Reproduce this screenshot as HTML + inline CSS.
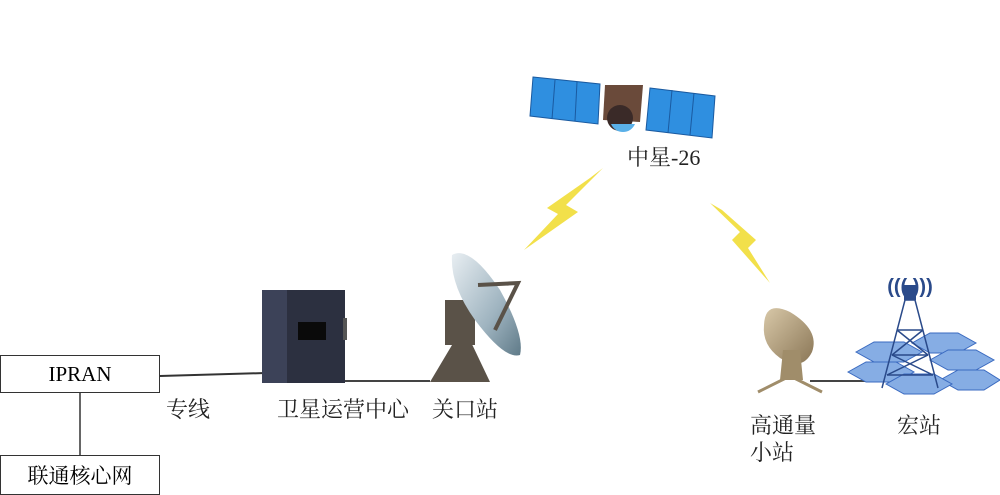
<!DOCTYPE html>
<html><head><meta charset="utf-8"><style>
body{margin:0;width:1000px;height:493px;background:#fff;position:relative;overflow:hidden;font-family:"Liberation Serif","Noto Serif CJK SC",serif;}
.t{position:absolute;font-size:22px;color:#222;white-space:nowrap;line-height:1}
.b{position:absolute;border:1.5px solid #333;background:#fff;box-sizing:border-box;display:flex;align-items:center;justify-content:center;font-size:21px}
</style></head><body>
<svg width="1000" height="493" style="position:absolute;left:0;top:0">
<defs>
<linearGradient id="dish" x1="0" y1="0" x2="1" y2="1"><stop offset="0" stop-color="#e8eef2"/><stop offset="0.6" stop-color="#9fb4c0"/><stop offset="1" stop-color="#5f7a88"/></linearGradient>
<linearGradient id="sd" x1="0" y1="0" x2="1" y2="1"><stop offset="0" stop-color="#d8c8a8"/><stop offset="1" stop-color="#8a7656"/></linearGradient>
</defs>
<line x1="80" y1="393" x2="80" y2="456" stroke="#333" stroke-width="1.5"/>
<line x1="160" y1="376" x2="265" y2="373" stroke="#333" stroke-width="2"/>
<line x1="290" y1="381" x2="430" y2="381" stroke="#444" stroke-width="2"/>
<line x1="810" y1="381" x2="895" y2="381" stroke="#444" stroke-width="2"/>
<!-- lightning -->
<polygon points="603,168 566,205 578,212 524,250 558,214 547,208 590,178" fill="#f2e04a"/>
<polygon points="710,203 740,232 732,240 770,283 748,248 756,240 722,210" fill="#f2e04a"/>
<!-- satellite -->
<g>
<polygon points="533,77 600,84 598,124 530,116" fill="#2f8fe0" stroke="#1a5aa0"/>
<line x1="555" y1="80" x2="552" y2="119" stroke="#1a5aa0"/><line x1="577" y1="82" x2="575" y2="121" stroke="#1a5aa0"/>
<polygon points="650,88 715,96 712,138 646,130" fill="#2f8fe0" stroke="#1a5aa0"/>
<line x1="672" y1="90" x2="668" y2="133" stroke="#1a5aa0"/><line x1="694" y1="93" x2="690" y2="135" stroke="#1a5aa0"/>
<polygon points="605,85 643,85 640,122 603,120" fill="#6a4a3a"/>
<ellipse cx="620" cy="118" rx="13" ry="13" fill="#3a2a28"/>
<path d="M611,124 a13,13 0 0 0 24,0" fill="#5ab0e8"/>
</g>
<!-- server -->
<rect x="262" y="290" width="83" height="93" fill="#2c3040"/>
<rect x="262" y="290" width="25" height="93" fill="#3c4258"/>
<rect x="298" y="322" width="28" height="18" fill="#0a0a0a"/>
<rect x="343" y="318" width="4" height="22" fill="#555"/>
<!-- gateway antenna -->
<polygon points="430,382 455,340 470,340 490,382" fill="#5a5248"/>
<rect x="445" y="300" width="30" height="45" fill="#5a5248"/>
<path d="M452,255 Q470,245 500,290 Q525,335 520,355 Q505,360 475,320 Q450,285 452,255Z" fill="url(#dish)"/>
<polyline points="478,285 518,283 495,330" fill="none" stroke="#5a5248" stroke-width="4"/>
<!-- small station -->
<path d="M764,325 Q765,300 790,312 Q820,330 812,352 Q802,372 780,358 Q762,345 764,325Z" fill="url(#sd)"/>
<polygon points="783,350 800,350 803,380 780,380" fill="#a08d6a"/>
<polyline points="758,392 790,376 822,392" fill="none" stroke="#a08d6a" stroke-width="3"/>
<!-- hexes -->
<g fill="#86ade4" stroke="#3a6ac0">
<polygon points="856,352 874,342 904,342 922,352 904,362 874,362"/>
<polygon points="912,343 930,333 958,333 976,343 958,353 930,353"/>
<polygon points="930,360 948,350 976,350 994,360 976,370 948,370"/>
<polygon points="848,372 866,362 896,362 914,372 896,382 866,382"/>
<polygon points="940,380 958,370 984,370 1000,380 984,390 958,390"/>
<polygon points="886,384 904,374 934,374 952,384 934,394 904,394"/>
</g>
<g stroke="#2a4a8a" stroke-width="1.5" fill="none">
<polyline points="882,388 905,300 915,300 938,388"/>
<line x1="897" y1="330" x2="923" y2="330"/><line x1="892" y1="355" x2="928" y2="355"/>
<line x1="887" y1="375" x2="933" y2="375"/>
<line x1="897" y1="330" x2="928" y2="355"/><line x1="923" y1="330" x2="892" y2="355"/>
<line x1="892" y1="355" x2="933" y2="375"/><line x1="928" y1="355" x2="887" y2="375"/>
</g>
<rect x="904" y="285" width="12" height="15" fill="#2a4a8a"/>
<text x="910" y="293" font-size="20" text-anchor="middle" fill="#2a4a8a" font-family="Liberation Sans,sans-serif" font-weight="bold">((( )))</text>
</svg>
<div class="b" style="left:0;top:355px;width:160px;height:38px">IPRAN</div>
<div class="b" style="left:0;top:455px;width:160px;height:40px">联通核心网</div>
<div class="t" style="left:166px;top:399px">专线</div>
<div class="t" style="left:277px;top:399px">卫星运营中心</div>
<div class="t" style="left:432px;top:399px">关口站</div>
<div class="t" style="left:750px;top:415px">高通量</div>
<div class="t" style="left:750px;top:442px">小站</div>
<div class="t" style="left:897px;top:415px">宏站</div>
<div class="t" style="left:627px;top:147px">中星-26</div>
</body></html>
